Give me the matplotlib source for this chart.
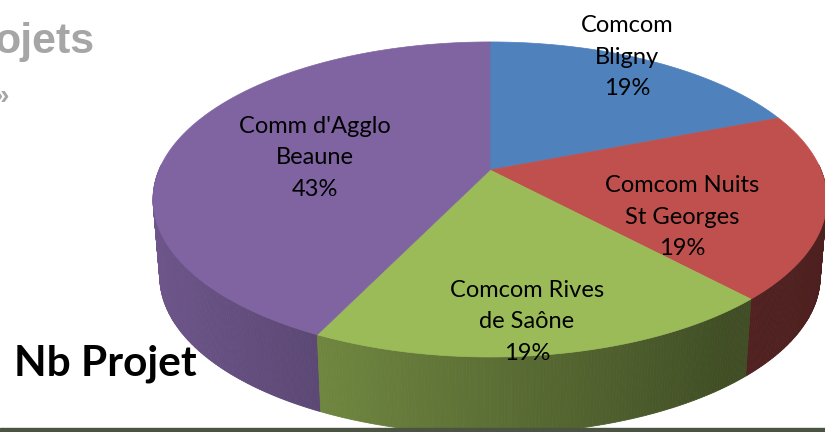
import numpy as np
import matplotlib
matplotlib.use("Agg")
import matplotlib.pyplot as plt
from matplotlib.colors import to_rgb

# data
names = ["Comcom\nBligny", "Comcom Nuits\nSt Georges", "Comcom Rives\nde Saône", "Comm d'Agglo\nBeaune"]
values = [4, 4, 4, 9]
colors = ["#4F81BD", "#C0504D", "#9BBB59", "#8064A2"]

# label centres (pixels)
label_xy = [(627, 57), (682, 217), (527, 322), (315, 158)]

# pie geometry in pixels (perspective-ish projection of a disc)
x0, y0 = 490, 170
A, B, k = 331, 152, 0.187
depth = 77

def proj(theta, r=1.0, dz=0.0):
    t = np.radians(theta)
    u = r * np.sin(t)
    v = r * np.cos(t)
    w = 1 + k * v
    sx = 1 - 0.02 * (dz > 0)
    return x0 + A * sx * u / w, y0 + dz - B * v / w

fig = plt.figure(figsize=(8.25, 4.32), dpi=100)
ax = fig.add_axes([0, 0, 1, 1])
ax.set_xlim(0, 825)
ax.set_ylim(432, 0)
ax.axis("off")

total = float(sum(values))
bounds = np.concatenate([[0], np.cumsum(values) / total * 360])

# side of the cylinder, drawn in thin strips, back to front
strips = []
for i in range(len(values)):
    a0, a1 = max(bounds[i], 88), min(bounds[i + 1], 272)
    if a1 <= a0:
        continue
    ts = np.linspace(a0, a1, int((a1 - a0) * 2) + 2)
    for ta, tb in zip(ts[:-1], ts[1:]):
        strips.append((ta, tb, i))
strips.sort(key=lambda s: -np.cos(np.radians(0.5 * (s[0] + s[1]))))
for ta, tb, i in strips:
    xa, ya = proj(ta)
    xb, yb = proj(tb)
    xc, yc = proj(tb, dz=depth)
    xd, yd = proj(ta, dz=depth)
    nx = np.sin(np.radians(0.5 * (ta + tb)))
    f = np.interp(nx, [-1, -0.43, 0.6, 1], [0.87, 0.72, 0.42, 0.40])
    c = np.array(to_rgb(colors[i])) * f
    ax.fill([xa, xb, xc, xd], [ya, yb, yc, yd], color=c, lw=0.6, ec=c, zorder=1)

# top face
for i in range(len(values)):
    ts = np.linspace(bounds[i], bounds[i + 1], 200)
    px, py = proj(ts)
    ax.fill(np.r_[x0, px], np.r_[y0, py], color=colors[i], ec=colors[i], lw=0.5, zorder=2)

# data labels
for i, (nm, (lx, ly)) in enumerate(zip(names, label_xy)):
    pct = round(100 * values[i] / total)
    ax.text(lx, ly, f"{nm}\n{pct}%", ha="center", va="center", fontsize=17,
            family="Lato", linespacing=1.62, color="black", zorder=5)

# slide texts around the chart
ax.text(95, 42, "ojets", ha="right", va="center", fontsize=31, fontweight="bold",
        family="Liberation Sans", color="#A6A6A6", zorder=5)
ax.text(9, 97, "»", ha="right", va="center", fontsize=20, fontweight="bold",
        family="Liberation Sans", color="#A6A6A6", zorder=5)
ax.text(14, 364, "Nb Projet", ha="left", va="center", fontsize=30.5, fontweight="bold",
        family="Lato", color="black", zorder=5)

ax.axhspan(428, 432, color="#4B5442", zorder=6)

fig.savefig("out.png", dpi=100)
